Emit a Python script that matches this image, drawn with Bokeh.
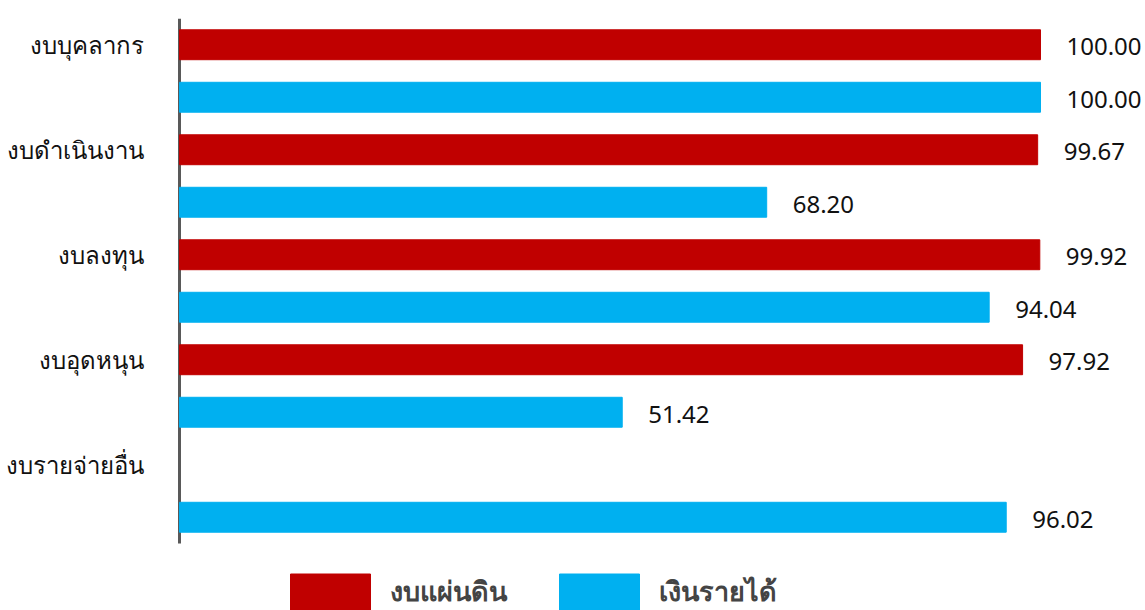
from bokeh.plotting import figure
from bokeh.models import ColumnDataSource, Range1d, FixedTicker, Legend, LegendItem
from bokeh.core.properties import value
from bokeh.embed import file_html
from bokeh.resources import INLINE

categories = ["งบบุคลากร", "งบดำเนินงาน", "งบลงทุน", "งบอุดหนุน", "งบรายจ่ายอื่น"]
state_budget = [100.00, 99.67, 99.92, 97.92, None]
income = [100.00, 68.20, 94.04, 51.42, 96.02]
series_names = ["งบแผ่นดิน", "เงินรายได้"]
colors = ["#C00000", "#00B0F0"]

FONT = "Noto Sans"
n = len(categories)
slots = 2 * n
slot_px = 52.5
bottom_px = 67
px_per_unit = 8.61
left_pad_px = 9

p = figure(width=1145, height=610, output_backend="svg", toolbar_location=None,
           x_range=Range1d(-left_pad_px / px_per_unit, (1145 - 179) / px_per_unit),
           y_range=Range1d(slots + bottom_px / slot_px, 0),
           min_border_left=179 - left_pad_px, min_border_right=0, min_border_top=18,
           min_border_bottom=0)
p.outline_line_color = None
p.xgrid.visible = False
p.ygrid.visible = False
p.xaxis.visible = False

# vertical category axis line spanning the bar slots
p.segment(x0=[0], y0=[0], x1=[0], y1=[slots], line_width=3, line_color="#595959")

renderers = []
for s, (vals, col) in enumerate(zip([state_budget, income], colors)):
    ys, xs, labels = [], [], []
    for i, v in enumerate(vals):
        if v is None:
            continue
        ys.append(2 * i + s + 0.5)
        xs.append(v)
        labels.append(f"{v:.2f}")
    src = ColumnDataSource(dict(y=ys, right=xs, lbl=labels))
    r = p.hbar(y="y", right="right", left=0, height=0.57, source=src,
               fill_color=col, line_color=col)
    renderers.append(r)
    p.text(x="right", y="y", text="lbl", source=src, x_offset=26, y_offset=2,
           text_baseline="middle", text_align="left", text_font=value(FONT),
           text_font_size="24px", text_color="#111111")

ticks = [2 * i + 0.5 for i in range(n)]
p.yaxis.ticker = FixedTicker(ticks=ticks)
p.yaxis.major_label_overrides = {t: c for t, c in zip(ticks, categories)}
p.yaxis.axis_line_color = None
p.yaxis.major_tick_line_color = None
p.yaxis.minor_tick_line_color = None
p.yaxis.major_label_standoff = 30 - left_pad_px
p.yaxis.major_label_text_font = FONT
p.yaxis.major_label_text_font_size = "24px"
p.yaxis.major_label_text_color = "#111111"

legend = Legend(items=[LegendItem(label=series_names[k], renderers=[renderers[k]]) for k in range(2)],
                location=(110, -4), orientation="horizontal",
                glyph_width=100, glyph_height=45, label_text_font=FONT,
                label_text_font_size="27px", label_text_font_style="bold",
                label_text_line_height=1.0,
                spacing=42, label_standoff=10, padding=0, margin=0,
                border_line_color=None, background_fill_alpha=0)
p.add_layout(legend, "center")

open("out.html", "w").write(file_html(p, INLINE))
